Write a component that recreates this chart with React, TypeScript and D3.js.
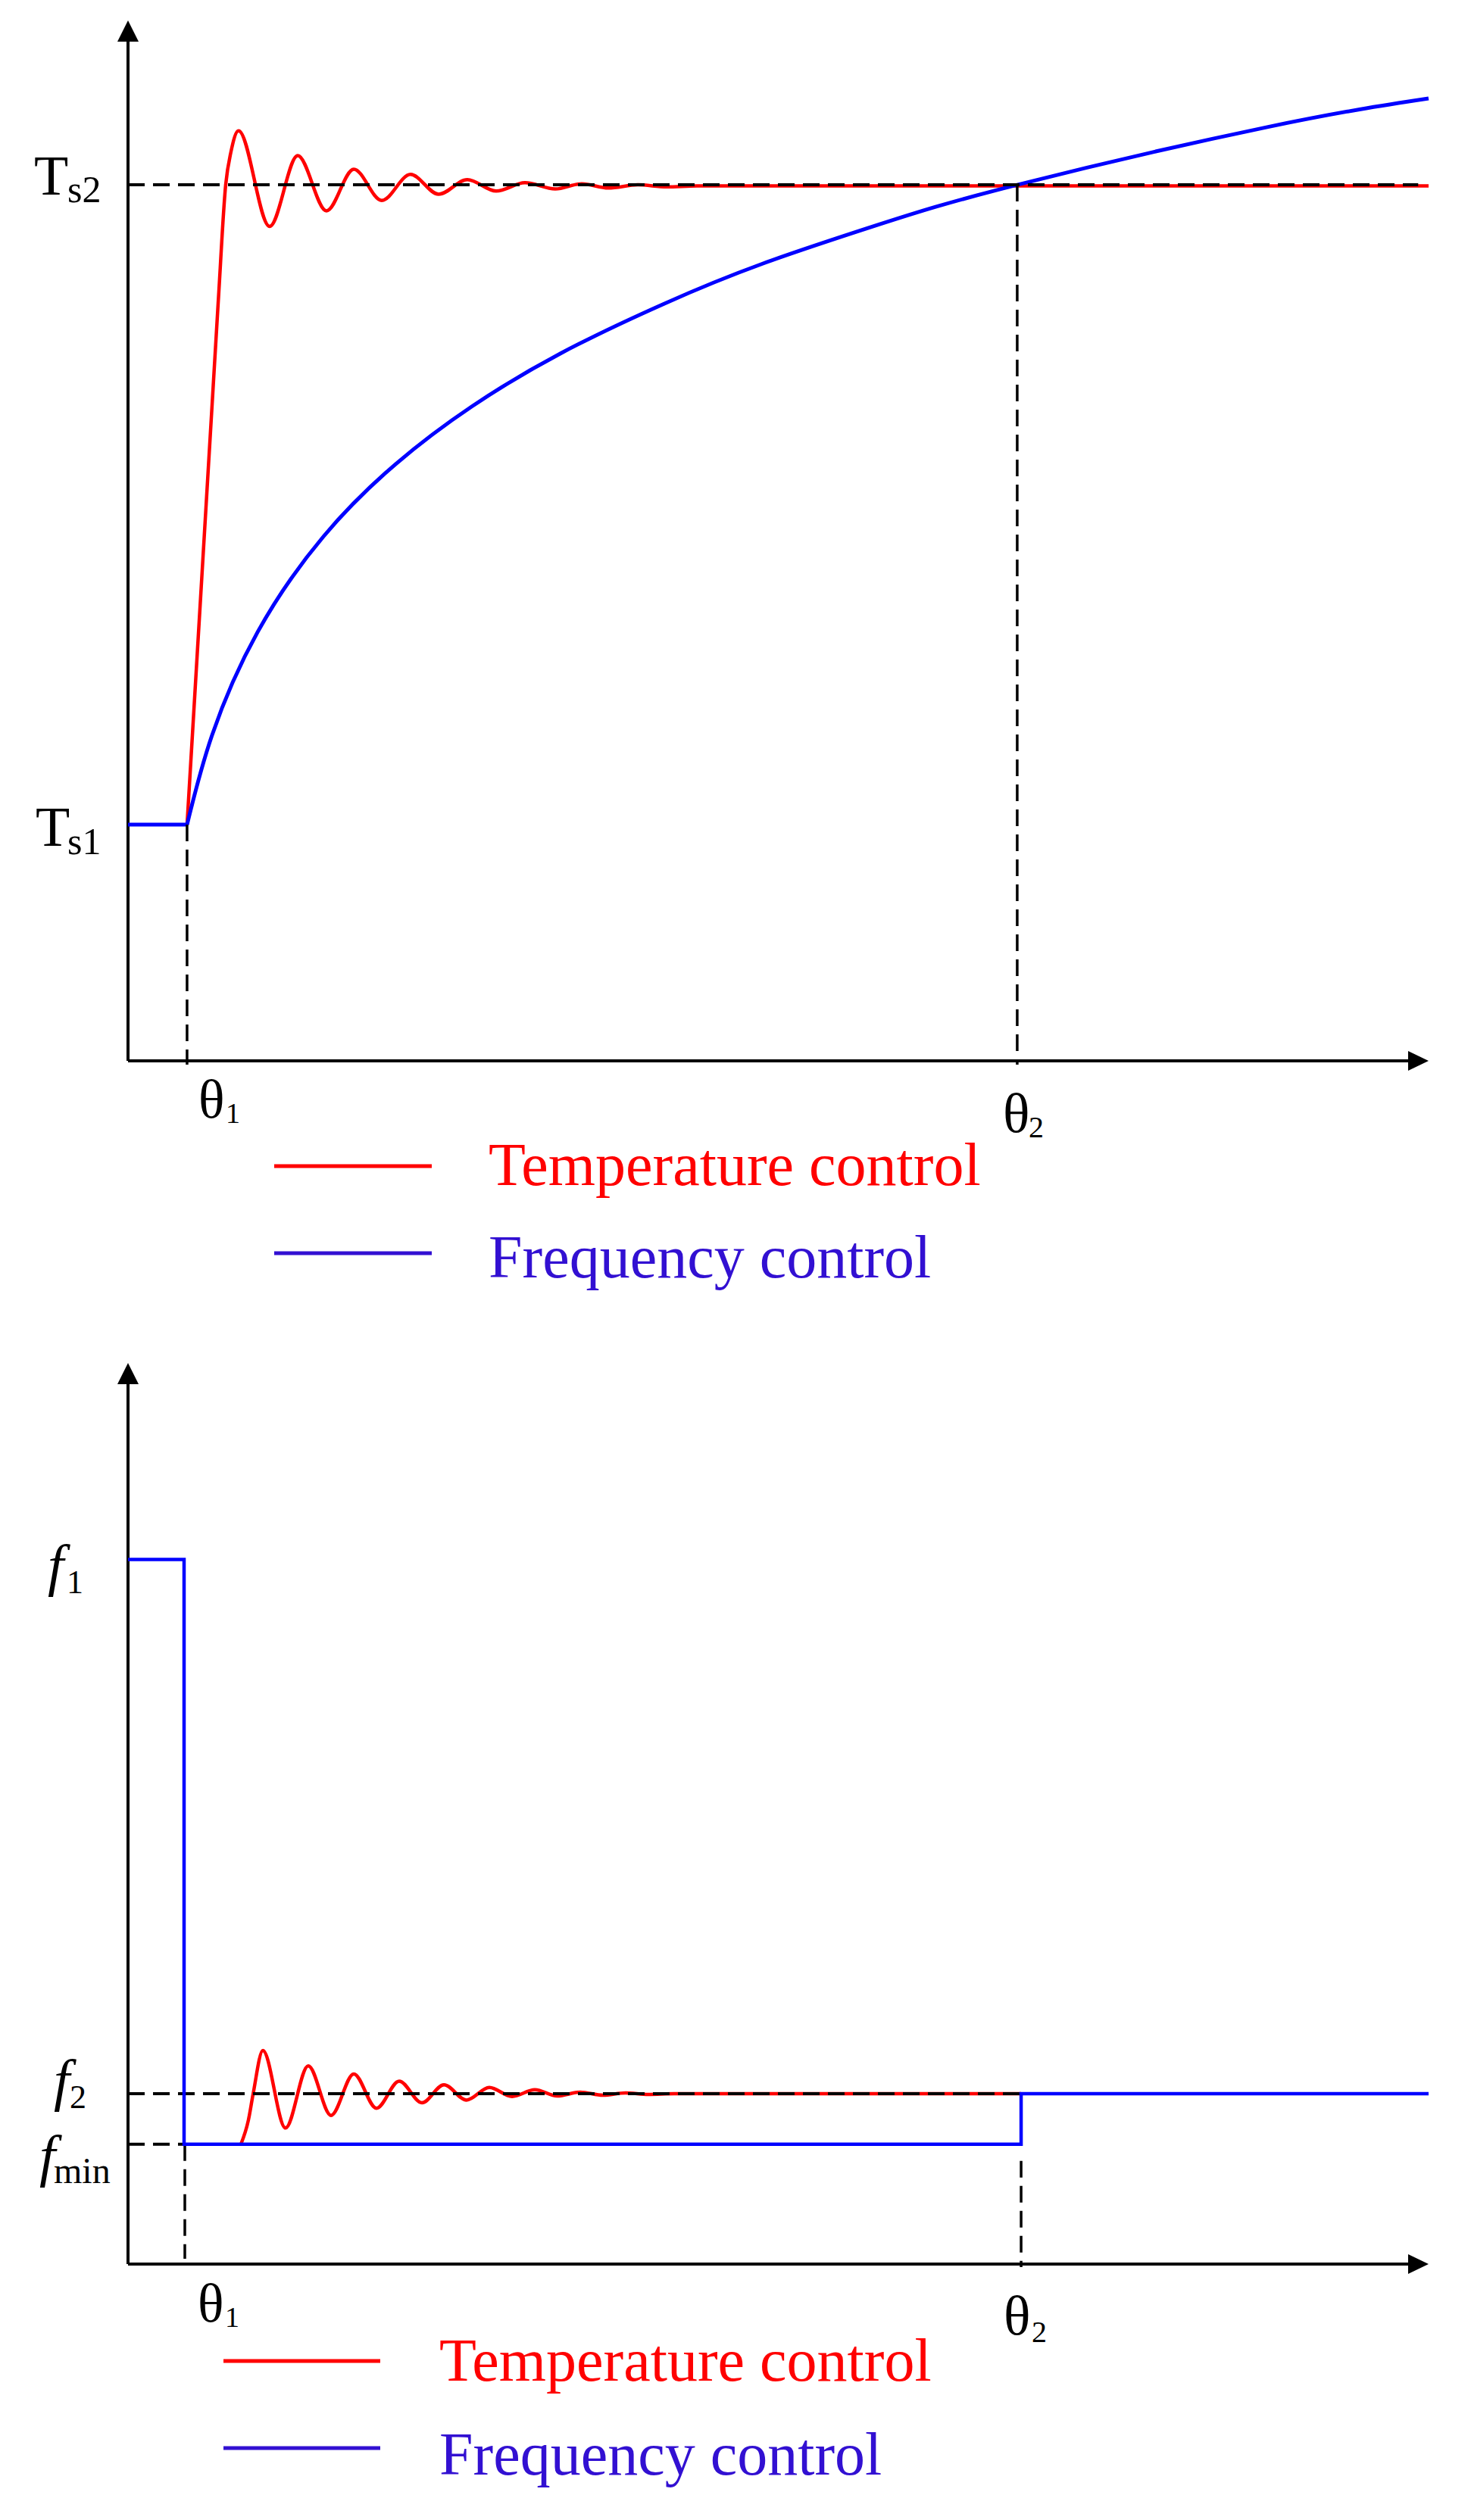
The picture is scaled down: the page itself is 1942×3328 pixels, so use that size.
import React from 'react';
import * as d3 from 'd3';

const W = 1942;
const H = 3328;

// ---------- top chart (temperature) ----------
const topLevels = { Ts1: 22.7, Ts2: 84.2 };
const topTheta = { t1: 4.54, t2: 68.37 };
const topBlueT = [4.54, 6.46, 9.96, 15.03, 20.62, 26.44, 33.26, 41.18, 48.75, 57.66, 68.37, 87.59, 100];
const topBlueV = [22.7, 31.3, 41.2, 50.4, 57.4, 62.9, 68.0, 72.75, 76.6, 80.35, 84.2, 89.75, 92.5];
const topRedT = [4.54, 6.93, 7.51, 7.92, 8.5, 10.89, 13.05, 15.26, 17.36, 19.51, 21.72, 23.88, 26.09, 28.31, 30.52, 32.85, 34.89, 36.93, 39.2, 41.41, 43.74, 100];
const topRedV = [22.7, 72.8, 84.2, 87.4, 89.4, 80.2, 87.0, 81.7, 85.7, 82.7, 85.2, 83.3, 84.7, 83.6, 84.4, 83.8, 84.3, 83.9, 84.2, 84.0, 84.1, 84.1];

// ---------- bottom chart (frequency) ----------
const botLevels = { f1: 78.2, f2: 18.9, fmin: 13.3 };
const botTheta = { t1: 4.31, t2: 68.67 };
const botBlueT = [0, 4.31, 68.67, 100];
const botBlueV = [78.2, 13.3, 18.9, 18.9];
const botRedT = [8.68, 9.26, 9.61, 10.37, 12.11, 13.86, 15.61, 17.36, 19.1, 20.85, 22.6, 24.29, 26.03, 27.78, 29.53, 31.28, 33.0, 34.77, 36.52, 38.26, 40.01, 42.0, 68.67];
const botRedV = [13.3, 16.0, 18.8, 23.7, 15.1, 22.0, 16.5, 21.1, 17.3, 20.3, 17.9, 19.9, 18.2, 19.6, 18.6, 19.35, 18.66, 19.08, 18.74, 18.99, 18.82, 18.9, 18.9];

const legendLabels = ['Temperature control', 'Frequency control'];
const RED = '#FF0000';
const BLUE = '#0000FF';
const LEGEND_BLUE = '#3210D2';
const FONT = '"Liberation Serif", "Times New Roman", serif';

type P = [number, number];
const zip = (a: number[], b: number[]): P[] => a.map((v, i) => [v, b[i]]);

function Arrows({ x0, y0, xTip, yTip }: { x0: number; y0: number; xTip: number; yTip: number }) {
  return (
    <g>
      <line x1={x0} y1={y0} x2={x0} y2={yTip + 20} stroke="#000" strokeWidth={4} />
      <line x1={x0} y1={y0} x2={xTip - 20} y2={y0} stroke="#000" strokeWidth={4} />
      <path d={`M${x0},${yTip} L${x0 - 14},${yTip + 28} L${x0 + 14},${yTip + 28} Z`} fill="#000" />
      <path d={`M${xTip},${y0} L${xTip - 27},${y0 - 13} L${xTip - 27},${y0 + 13} Z`} fill="#000" />
    </g>
  );
}

function Legend({ x1, x2, tx, yRed, yBlue, bRed, bBlue }: any) {
  return (
    <g fontFamily={FONT} fontSize={80}>
      <line x1={x1} x2={x2} y1={yRed} y2={yRed} stroke={RED} strokeWidth={5} />
      <text x={tx} y={bRed} fill={RED}>{legendLabels[0]}</text>
      <line x1={x1} x2={x2} y1={yBlue} y2={yBlue} stroke={LEGEND_BLUE} strokeWidth={5} />
      <text x={tx} y={bBlue} fill={LEGEND_BLUE}>{legendLabels[1]}</text>
    </g>
  );
}

export default function App() {
  const xT = d3.scaleLinear().domain([0, 100]).range([169, 1886]);
  const yT = d3.scaleLinear().domain([0, 100]).range([1401, 27]);
  const xB = d3.scaleLinear().domain([0, 100]).range([169, 1886]);
  const yB = d3.scaleLinear().domain([0, 100]).range([2990, 1800]);

  const smoothT = d3.line<P>().x(d => xT(d[0])).y(d => yT(d[1])).curve(d3.curveMonotoneX);
  const naturalT = d3.line<P>().x(d => xT(d[0])).y(d => yT(d[1])).curve(d3.curveNatural);
  const linT = d3.line<P>().x(d => xT(d[0])).y(d => yT(d[1]));
  const smoothB = d3.line<P>().x(d => xB(d[0])).y(d => yB(d[1])).curve(d3.curveMonotoneX);
  const stepB = d3.line<P>().x(d => xB(d[0])).y(d => yB(d[1])).curve(d3.curveStepAfter);

  const dash = '22,11';

  return (
    <svg width={W} height={H} style={{ position: 'absolute', left: 0, top: 0, background: '#fff' }}>
      <rect x={0} y={0} width={W} height={H} fill="#fff" />

      {/* ===== TOP CHART ===== */}
      <Arrows x0={xT(0)} y0={yT(0)} xTip={xT(100)} yTip={yT(100)} />
      <path d={smoothT(zip(topRedT, topRedV)) || ''} fill="none" stroke={RED} strokeWidth={4.5} />
      <path d={linT([[0, topLevels.Ts1], [topTheta.t1, topLevels.Ts1]]) || ''} fill="none" stroke={BLUE} strokeWidth={5} />
      <path d={naturalT(zip(topBlueT, topBlueV)) || ''} fill="none" stroke={BLUE} strokeWidth={5} />
      <line x1={xT(0)} x2={xT(99.2)} y1={yT(topLevels.Ts2)} y2={yT(topLevels.Ts2)} stroke="#000" strokeWidth={4} strokeDasharray={dash} />
      <line x1={xT(topTheta.t1)} x2={xT(topTheta.t1)} y1={yT(topLevels.Ts1)} y2={yT(0) + 5} stroke="#000" strokeWidth={3.5} strokeDasharray={dash} />
      <line x1={xT(topTheta.t2)} x2={xT(topTheta.t2)} y1={yT(topLevels.Ts2)} y2={yT(0) + 5} stroke="#000" strokeWidth={3.5} strokeDasharray={dash} />
      <g fontFamily={FONT} fill="#000">
        <text x={45} y={yT(topLevels.Ts2) + 13} fontSize={74}>T</text>
        <text x={89} y={yT(topLevels.Ts2) + 23} fontSize={50}>s2</text>
        <text x={47} y={yT(topLevels.Ts1) + 28} fontSize={74}>T</text>
        <text x={89} y={yT(topLevels.Ts1) + 39} fontSize={50}>s1</text>
        <text x={xT(topTheta.t1) + 15} y={yT(0) + 75} fontSize={72}>θ</text>
        <text x={xT(topTheta.t1) + 51} y={yT(0) + 82} fontSize={38}>1</text>
        <text x={xT(topTheta.t2) - 19} y={yT(0) + 94} fontSize={74}>θ</text>
        <text x={xT(topTheta.t2) + 15} y={yT(0) + 101} fontSize={40}>2</text>
      </g>
      <Legend x1={362} x2={570} tx={645} yRed={1540} yBlue={1655} bRed={1565} bBlue={1687} />

      {/* ===== BOTTOM CHART ===== */}
      <Arrows x0={xB(0)} y0={yB(0)} xTip={xB(100)} yTip={yB(100)} />
      <path d={smoothB(zip(botRedT, botRedV)) || ''} fill="none" stroke={RED} strokeWidth={4.5} />
      <line x1={xB(0)} x2={xB(80.3)} y1={yB(botLevels.f2)} y2={yB(botLevels.f2)} stroke="#000" strokeWidth={4} strokeDasharray={dash} />
      <line x1={xB(0)} x2={xB(botTheta.t1)} y1={yB(botLevels.fmin)} y2={yB(botLevels.fmin)} stroke="#000" strokeWidth={4} strokeDasharray={dash} />
      <line x1={xB(botTheta.t1) + 1} x2={xB(botTheta.t1) + 1} y1={yB(botLevels.fmin)} y2={yB(0) - 7} stroke="#000" strokeWidth={3.5} strokeDasharray={dash} />
      <line x1={xB(botTheta.t2)} x2={xB(botTheta.t2)} y1={yB(botLevels.fmin) + 22} y2={yB(0) + 4} stroke="#000" strokeWidth={3.5} strokeDasharray={dash} />
      <path d={stepB(zip(botBlueT, botBlueV)) || ''} fill="none" stroke={BLUE} strokeWidth={4.5} />
      <g fontFamily={FONT} fill="#000">
        <text x={63} y={yB(botLevels.f1) + 34} fontSize={76} fontStyle="italic">f</text>
        <text x={88} y={yB(botLevels.f1) + 45} fontSize={44}>1</text>
        <text x={71} y={yB(botLevels.f2) + 8} fontSize={76} fontStyle="italic">f</text>
        <text x={92} y={yB(botLevels.f2) + 19} fontSize={44}>2</text>
        <text x={52} y={yB(botLevels.fmin) + 41} fontSize={76} fontStyle="italic">f</text>
        <text x={71} y={yB(botLevels.fmin) + 51} fontSize={48}>min</text>
        <text x={xB(botTheta.t1) + 18} y={yB(0) + 76} fontSize={72}>θ</text>
        <text x={xB(botTheta.t1) + 54} y={yB(0) + 83} fontSize={38}>1</text>
        <text x={xB(botTheta.t2) - 23} y={yB(0) + 93} fontSize={74}>θ</text>
        <text x={xB(botTheta.t2) + 14} y={yB(0) + 103} fontSize={40}>2</text>
      </g>
      <Legend x1={295} x2={502} tx={580} yRed={3118} yBlue={3233} bRed={3144} bBlue={3268} />
    </svg>
  );
}
